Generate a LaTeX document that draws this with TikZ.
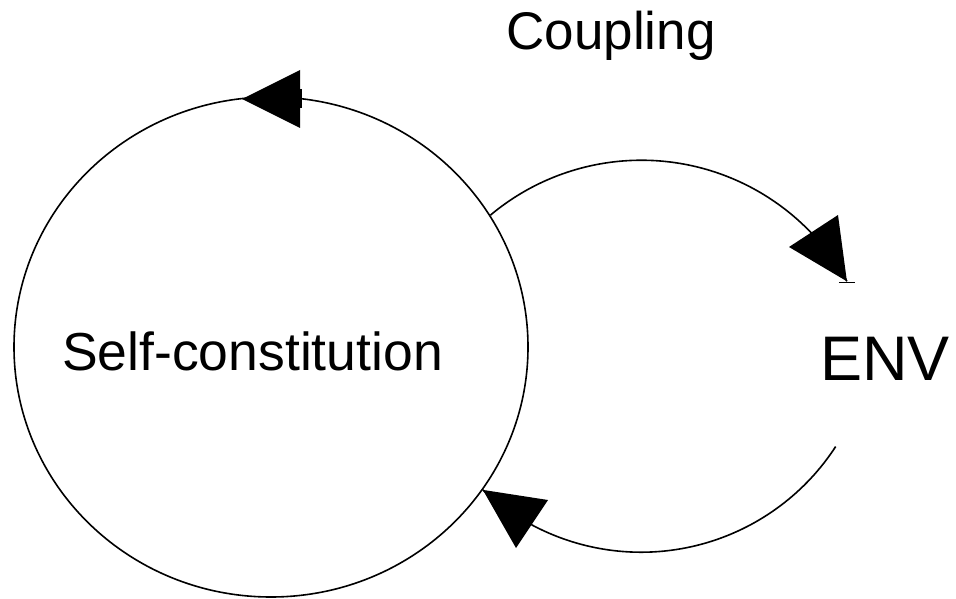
\documentclass[tikz,border=0pt]{standalone}
\usepackage{fontspec}
\setmainfont{Liberation Sans}
\usetikzlibrary{shapes.geometric}
\begin{document}
\begin{tikzpicture}[x=1pt,y=1pt,
  ring/.style={draw=black,line width=1.6pt,ellipse,inner sep=0pt,
               minimum width=514pt,minimum height=500pt},
  link/.style={draw=black,line width=1.6pt},
  head/.style={fill=black},
  tick/.style={draw=black,line width=1.2pt},
  label/.style={inner sep=0pt,anchor=base}]
  % canvas
  \fill[white] (0,0) rectangle (956,-599);
  \useasboundingbox (0,0) rectangle (956,-599);

  % the self-constituting loop
  \node[ring] (self) at (271,-347) {};
  \node[label,font=\fontsize{53.5}{62}\selectfont] (selftext) at (252.5,-370) {Self-constitution};

  % environment and coupling labels
  \node[label,font=\fontsize{63}{72}\selectfont] (env) at (885,-380) {ENV};
  \node[label,font=\fontsize{53}{62}\selectfont] (coupling) at (611,-50) {Coupling};

  % coupling arcs between the loop and the environment
  \draw[link] (self.31.5) arc[start angle=130,end angle=29,radius=235]
    coordinate (toenv);
  \draw[link] (self.-34) arc[start angle=-133,end angle=-33,radius=232]
    coordinate (fromenv);

  % arrowheads
  \fill[head] (242,-99) -- (300,-70) -- (300,-128) -- cycle;
  \draw[tick] (301,-89) -- (301,-108);
  \fill[head] (toenv) -- (789,-247) -- (838,-215) -- cycle;
  \draw[tick] ([xshift=-8pt,yshift=-1pt]toenv) -- ([xshift=8pt,yshift=-1pt]toenv);
  \fill[head] (self.-34) -- (548,-500) -- (516,-548) -- cycle;
\end{tikzpicture}
\end{document}
